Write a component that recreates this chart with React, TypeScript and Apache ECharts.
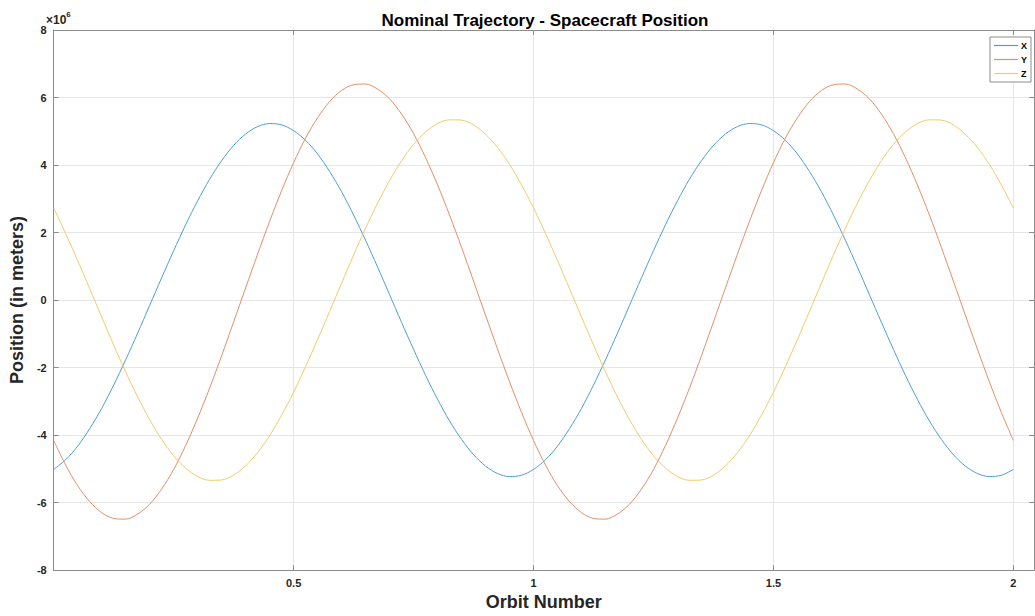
import React, { useEffect, useRef } from "react";
import * as echarts from "echarts";

// Orbit number samples (step 0.025)
const orbit: number[] = [
  0, 0.025, 0.05, 0.075, 0.1, 0.125, 0.15, 0.175, 0.2, 0.225,
  0.25, 0.275, 0.3, 0.325, 0.35, 0.375, 0.4, 0.425, 0.45, 0.475,
  0.5, 0.525, 0.55, 0.575, 0.6, 0.625, 0.65, 0.675, 0.7, 0.725,
  0.75, 0.775, 0.8, 0.825, 0.85, 0.875, 0.9, 0.925, 0.95, 0.975,
  1, 1.025, 1.05, 1.075, 1.1, 1.125, 1.15, 1.175, 1.2, 1.225,
  1.25, 1.275, 1.3, 1.325, 1.35, 1.375, 1.4, 1.425, 1.45, 1.475,
  1.5, 1.525, 1.55, 1.575, 1.6, 1.625, 1.65, 1.675, 1.7, 1.725,
  1.75, 1.775, 1.8, 1.825, 1.85, 1.875, 1.9, 1.925, 1.95, 1.975, 2,
];

// Positions in units of 1e6 m
const posX: number[] = [
  -5.02, -4.73, -4.33, -3.81, -3.21, -2.52, -1.77, -0.98, -0.16, 0.66,
  1.46, 2.23, 2.94, 3.58, 4.13, 4.58, 4.92, 5.14, 5.23, 5.19,
  5.02, 4.73, 4.33, 3.81, 3.21, 2.52, 1.77, 0.98, 0.16, -0.66,
  -1.46, -2.23, -2.94, -3.58, -4.13, -4.58, -4.92, -5.14, -5.23, -5.19,
  -5.02, -4.73, -4.33, -3.81, -3.21, -2.52, -1.77, -0.98, -0.16, 0.66,
  1.46, 2.23, 2.94, 3.58, 4.13, 4.58, 4.92, 5.14, 5.23, 5.19,
  5.02, 4.73, 4.33, 3.81, 3.21, 2.52, 1.77, 0.98, 0.16, -0.66,
  -1.46, -2.23, -2.94, -3.58, -4.13, -4.58, -4.92, -5.14, -5.23, -5.19, -5.02,
];
const posY: number[] = [
  -4.16, -4.89, -5.5, -5.97, -6.3, -6.47, -6.49, -6.34, -6.05, -5.6,
  -5.02, -4.31, -3.5, -2.61, -1.65, -0.65, 0.36, 1.36, 2.33, 3.24,
  4.07, 4.8, 5.4, 5.88, 6.21, 6.38, 6.4, 6.25, 5.96, 5.51,
  4.93, 4.22, 3.41, 2.52, 1.56, 0.56, -0.45, -1.45, -2.42, -3.33,
  -4.16, -4.89, -5.5, -5.97, -6.3, -6.47, -6.49, -6.34, -6.05, -5.6,
  -5.02, -4.31, -3.5, -2.61, -1.65, -0.65, 0.36, 1.36, 2.33, 3.24,
  4.07, 4.8, 5.4, 5.88, 6.21, 6.38, 6.4, 6.25, 5.96, 5.51,
  4.93, 4.22, 3.41, 2.52, 1.56, 0.56, -0.45, -1.45, -2.42, -3.33, -4.16,
];
const posZ: number[] = [
  2.73, 1.97, 1.17, 0.34, -0.5, -1.33, -2.13, -2.87, -3.54, -4.13,
  -4.61, -4.98, -5.23, -5.34, -5.33, -5.19, -4.91, -4.52, -4.02, -3.41,
  -2.73, -1.97, -1.17, -0.34, 0.5, 1.33, 2.13, 2.87, 3.54, 4.13,
  4.61, 4.98, 5.23, 5.34, 5.33, 5.19, 4.91, 4.52, 4.02, 3.41,
  2.73, 1.97, 1.17, 0.34, -0.5, -1.33, -2.13, -2.87, -3.54, -4.13,
  -4.61, -4.98, -5.23, -5.34, -5.33, -5.19, -4.91, -4.52, -4.02, -3.41,
  -2.73, -1.97, -1.17, -0.34, 0.5, 1.33, 2.13, 2.87, 3.54, 4.13,
  4.61, 4.98, 5.23, 5.34, 5.33, 5.19, 4.91, 4.52, 4.02, 3.41, 2.73,
];

const seriesNames = ["X", "Y", "Z"];
const seriesColors = ["#4d9fd2", "#e38e68", "#f2cb6a"];
const xTicks = [0.5, 1, 1.5, 2];

const FONT = "'Liberation Sans', Arial, Helvetica, sans-serif";
const AXIS_COLOR = "#8c8c8c";
const TEXT_COLOR = "#262626";

export default function App() {
  const ref = useRef<HTMLDivElement>(null);

  useEffect(() => {
    document.body.style.margin = "0";
    if (!ref.current) return;
    const chart = echarts.init(ref.current, undefined, { renderer: "svg" });
    const datasets = [posX, posY, posZ];

    const axisBase = {
      axisLine: { show: true, onZero: false, lineStyle: { color: AXIS_COLOR, width: 1 } },
      axisTick: { show: true, inside: true, length: 5, lineStyle: { color: AXIS_COLOR } },
    };

    chart.setOption({
      animation: false,
      backgroundColor: "#ffffff",
      textStyle: { fontFamily: FONT },
      title: {
        text: "Nominal Trajectory - Spacecraft Position",
        left: 540,
        textAlign: "center",
        top: 7,
        textStyle: { fontFamily: FONT, fontSize: 17, fontWeight: "bold", color: "#000" },
      },
      legend: {
        data: seriesNames.map((name, i) => ({
          name,
          icon: "rect",
          itemStyle: { color: seriesColors[i], borderWidth: 0 },
        })),
        orient: "vertical",
        right: 4,
        top: 37,
        align: "left",
        itemWidth: 24,
        itemHeight: 1.2,
        itemGap: 5,
        padding: [4, 4, 4, 4],
        borderColor: AXIS_COLOR,
        borderWidth: 1,
        backgroundColor: "#fff",
        textStyle: { fontFamily: FONT, fontSize: 9, fontWeight: "bold", color: "#000", padding: [0, 0, 0, -2] },
      },
      grid: { left: 45, right: 1, top: 30, bottom: 43, containLabel: false },
      xAxis: [
        {
          type: "value",
          min: 0,
          max: 2.043,
          interval: 0.5,
          name: "Orbit Number",
          nameLocation: "middle",
          nameGap: 22,
          nameTextStyle: { fontFamily: FONT, fontSize: 18, fontWeight: "bold", color: TEXT_COLOR },
          ...axisBase,
          axisLabel: {
            fontFamily: FONT,
            fontSize: 11,
            fontWeight: "bold",
            color: TEXT_COLOR,
            margin: 7,
            showMaxLabel: false,
            formatter: (v: number) => (xTicks.includes(v) ? String(v) : ""),
          },
          splitLine: { show: true, lineStyle: { color: "#e6e6e6" } },
        },
        {
          type: "value",
          position: "top",
          min: 0,
          max: 2.043,
          interval: 0.5,
          ...axisBase,
          axisLabel: { show: false },
          splitLine: { show: false },
        },
      ],
      yAxis: [
        {
          type: "value",
          min: -8,
          max: 8,
          interval: 2,
          name: "Position (in meters)",
          nameLocation: "middle",
          nameGap: 22,
          nameTextStyle: { fontFamily: FONT, fontSize: 18, fontWeight: "bold", color: TEXT_COLOR },
          ...axisBase,
          axisLabel: { fontFamily: FONT, fontSize: 11, fontWeight: "bold", color: TEXT_COLOR, margin: 7 },
          splitLine: { show: true, lineStyle: { color: "#e6e6e6" } },
        },
        {
          type: "value",
          position: "right",
          min: -8,
          max: 8,
          interval: 2,
          ...axisBase,
          axisLabel: { show: false },
          splitLine: { show: false },
        },
      ],
      graphic: [
        {
          type: "text",
          left: 46,
          top: 10,
          style: {
            text: "{a|×10}{b|6}",
            rich: {
              a: { fontFamily: FONT, fontSize: 12, fontWeight: "bold", fill: TEXT_COLOR, verticalAlign: "bottom" },
              b: { fontFamily: FONT, fontSize: 8, fontWeight: "bold", fill: TEXT_COLOR, verticalAlign: "top", padding: [0, 0, 8, 0] },
            },
          },
        },
      ],
      series: seriesNames.map((name, i) => ({
        name,
        type: "line",
        xAxisIndex: 0,
        yAxisIndex: 0,
        data: orbit.map((t, j) => [t, datasets[i][j]]),
        smooth: 0.3,
        symbol: "none",
        color: seriesColors[i],
        itemStyle: { color: seriesColors[i] },
        lineStyle: { width: 1, color: seriesColors[i] },
      })),
    });

    return () => chart.dispose();
  }, []);

  return <div ref={ref} style={{ width: 1035, height: 616 }} />;
}
